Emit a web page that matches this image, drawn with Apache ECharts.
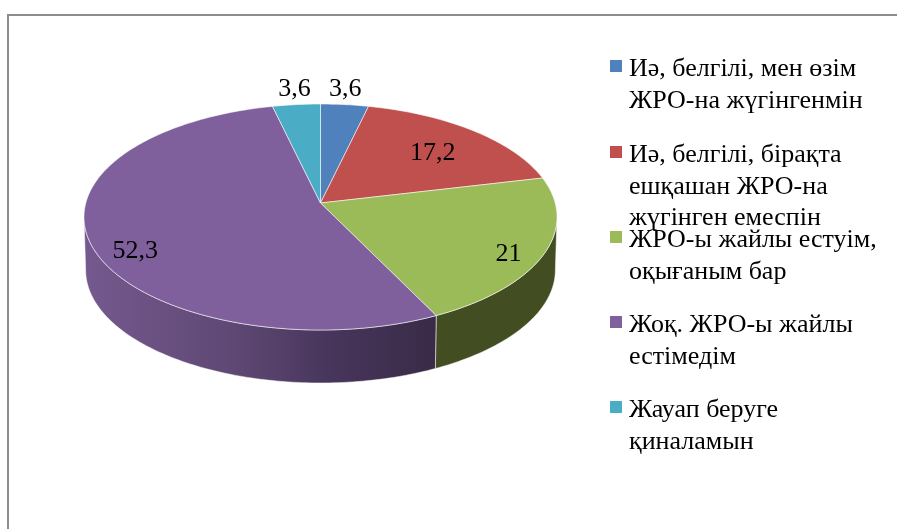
<!DOCTYPE html>
<html>
<head>
<meta charset="utf-8">
<style>
  html, body { margin: 0; padding: 0; background: #fff; }
  #chart { width: 897px; height: 529px; }
</style>
<script src="https://cdn.jsdelivr.net/npm/echarts@6/dist/echarts.min.js"></script>
</head>
<body>
<div id="chart"></div>
<script>
var categories = [
    "Иә, белгілі, мен өзім\nЖРО-на жүгінгенмін",
    "Иә, белгілі, бірақта\nешқашан ЖРО-на\nжүгінген емеспін",
    "ЖРО-ы жайлы естуім,\nоқығаным бар",
    "Жоқ. ЖРО-ы жайлы\nестімедім",
    "Жауап беруге\nқиналамын"
];
var values = [3.6, 17.2, 21, 52.3, 3.6];
var valueLabels = ["3,6", "17,2", "21", "52,3", "3,6"];
var colors = ["#4f81bd", "#c0504d", "#9bbb59", "#7f609d", "#4bacc6"];

// where each value label sits: fraction of the radius, degrees off the slice middle
var labelRadius = [1.19, 0.70, 0.87, 0.85, 1.19];
var labelShift = [-0.8, 1.4, 3.9, -8.5, 0.5];

// legend rows, centre of each swatch in px
var legendRows = [66, 152, 237, 322, 407];
var lineHeight = 31.5;
// 12px square at the top of a 14x19 box, the empty subpath only stretches the box
var swatch = "path://M0 0H12V12H0Z M14 19L14 19";
var swatchDrop = 3.5;

// tilted disc: a circle seen in perspective, so the apex is above the ellipse centre
var cx = 320.5, apexY = 203, radiusX = 234.7;
var persA = -86.1, persC = 0.1239;
var depth = 53;
var font = '26px "Liberation Serif"';

var total = values.reduce(function(a, b) { return a + b; }, 0);
var starts = [];
values.reduce(function(sum, v, i) {
    starts[i] = sum / total * 360;
    return sum + v;
}, 0);

function project(deg, r, drop) {
    var t = deg * Math.PI / 180;
    var u = Math.sin(t) * r, v = Math.cos(t) * r;
    var w = 1 + persC * v;
    var shrink = drop ? 0.993 : 1;
    return [cx + radiusX * u / w * shrink, (apexY + persA * v) / w + (drop || 0)];
}

function arc(from, to, drop) {
    var pts = [];
    for (var d = from; d < to; d += 1) {
        pts.push(project(d, 1, drop));
    }
    pts.push(project(to, 1, drop));
    return pts;
}

function wallFill(i) {
    if (i === 3) {
        return new echarts.graphic.LinearGradient(0, 0, 1, 0, [
            { offset: 0, color: "#75598f" },
            { offset: 0.45, color: "#5d4772" },
            { offset: 0.7, color: "#47355b" },
            { offset: 1, color: "#392b47" }
        ]);
    }
    return "#434d22";
}

function drawSlice(i) {
    var start = starts[i];
    var end = start + values[i] / total * 360;
    var children = [];
    // the rim wall only shows on the front half
    var from = Math.max(start, 97), to = Math.min(end, 263);
    if (from < to) {
        children.push({
            type: "polygon",
            shape: { points: arc(from, to, 0).concat(arc(from, to, depth).reverse()) },
            style: { fill: wallFill(i), stroke: "rgba(255,255,255,0.65)", lineWidth: 0.8 }
        });
    }
    children.push({
        type: "polygon",
        shape: { points: [[cx, apexY]].concat(arc(start, end, 0)) },
        style: { fill: colors[i], stroke: "rgba(255,255,255,0.7)", lineWidth: 0.8 }
    });
    var pos = project((start + end) / 2 + labelShift[i], labelRadius[i], 0);
    children.push({
        type: "text",
        z2: 10,
        style: {
            text: valueLabels[i], x: pos[0], y: pos[1] + 1,
            align: "center", verticalAlign: "middle",
            font: font, fill: "#000"
        }
    });
    return { type: "group", children: children };
}

// legend centres a block of text on its swatch, blank lines on top put line one there
function blankLines(name) {
    return name.split("\n").slice(1).map(function() { return " \n"; }).join("");
}

var legends = categories.map(function(name, i) {
    var lines = 2 * name.split("\n").length - 1;
    return {
        data: [name],
        orient: "vertical",
        left: 610,
        top: legendRows[i] + swatchDrop - lines * lineHeight / 2,
        padding: 0,
        icon: swatch,
        itemWidth: 14,
        itemHeight: 19,
        itemGap: 0,
        selectedMode: false,
        formatter: function(n) { return blankLines(n) + n; },
        textStyle: {
            fontFamily: "Liberation Serif",
            fontSize: 26,
            color: "#000",
            lineHeight: lineHeight
        }
    };
});

var series = categories.map(function(name, i) {
    return {
        type: "custom",
        name: name,
        coordinateSystem: "none",
        itemStyle: { color: colors[i] },
        data: [values[i]],
        silent: true,
        renderItem: function() {
            return drawSlice(i);
        }
    };
});

var chart = echarts.init(document.getElementById("chart"));
chart.setOption({
    animation: false,
    backgroundColor: "#fff",
    legend: legends,
    series: series,
    graphic: [
        { type: "line", shape: { x1: 8, y1: 14, x2: 8, y2: 529 }, style: { stroke: "#8c8c8c", lineWidth: 2 } },
        { type: "line", shape: { x1: 7, y1: 15, x2: 897, y2: 15 }, style: { stroke: "#8c8c8c", lineWidth: 2 } }
    ]
});
</script>
</body>
</html>
